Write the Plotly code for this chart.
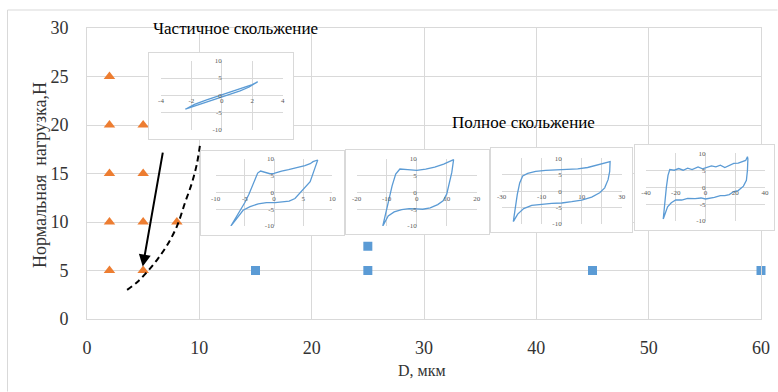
import plotly.graph_objects as go

# ---------------- data ----------------
partial_x = [2, 2, 2, 2, 2, 5, 5, 5, 5, 8]
partial_y = [5, 10, 15, 20, 25, 5, 10, 15, 20, 10]
full_x = [15, 25, 25, 45, 60]
full_y = [5, 5, 7.5, 5, 5]

boundary_x = [3.57, 4.46, 5.35, 6.24, 7.13, 8.02, 8.73, 9.36, 9.8, 10.1]
boundary_y = [3.0, 3.8, 4.85, 6.1, 7.6, 9.6, 12.0, 14.1, 16.1, 18.3]

arrow_tail = [6.77, 17.3]
arrow_tip = [4.96, 5.4]

loop1_x = [-2.4, -1.8, -1.0, -0.3, 0.4, 1.0, 1.6, 2.0, 2.35, 1.8, 1.2, 0.6, 0.0, -0.6, -1.2, -1.8, -2.4]
loop1_y = [-4.0, -2.6, -1.3, -0.3, 0.8, 1.6, 2.5, 3.1, 3.9, 2.4, 1.3, 0.4, -0.5, -1.3, -2.2, -3.1, -4.0]

loop2_x = [-7.4, -6.6, -5.8, -5.0, -4.3, -3.7, -3.2, -2.8, -2.3, -1.5, -0.7, 0.0, 1.3, 2.5, 3.6, 4.6, 5.3, 6.2, 6.7, 7.5,
           7.3, 7.0, 6.2, 4.7, 3.6, 2.6, 1.3, 0.2, -1.3, -2.7, -4.1, -5.3, -6.4, -7.4]
loop2_y = [-10.0, -7.8, -5.5, -3.0, -0.5, 2.0, 4.2, 5.8, 6.4, 6.0, 5.6, 5.7, 6.4, 6.8, 7.2, 7.6, 8.0, 8.6, 9.2, 9.7,
           8.5, 7.2, 3.2, 0.2, -1.8, -2.6, -2.8, -3.0, -3.0, -3.4, -4.2, -5.3, -7.8, -10.0]

loop3_x = [-11.3, -10.3, -9.3, -8.2, -7.0, -5.6, -3.0, 0.0, 3.0, 6.0, 9.0, 12.3,
           11.7, 10.8, 10.0, 8.8, 7.0, 4.5, 2.0, 0.0, -2.5, -5.0, -7.5, -9.5, -11.3]
loop3_y = [-10.0, -6.0, -2.0, 2.0, 5.5, 7.0, 6.8, 6.6, 7.0, 7.6, 8.5, 9.8,
           6.0, 2.0, -0.5, -2.5, -3.6, -4.6, -5.0, -4.9, -4.8, -5.1, -5.8, -7.0, -10.0]

loop4_x = [-24.2, -23.3, -22.2, -21.0, -19.5, -17.0, -13.0, -8.0, -3.0, 2.0, 8.0, 13.0, 17.0, 21.0, 24.2,
           24.0, 23.2, 21.5, 19.0, 15.0, 10.0, 5.0, 0.0, -5.0, -10.0, -15.0, -19.0, -22.0, -24.2]
loop4_y = [-9.3, -5.0, -1.0, 2.5, 4.6, 5.4, 6.0, 6.3, 6.4, 6.6, 6.8, 7.2, 7.9, 8.5, 9.0,
           6.0, 3.5, 1.0, -0.5, -1.8, -2.7, -3.2, -3.6, -3.7, -4.0, -4.3, -5.3, -7.0, -9.3]

loop5_x = [-28.4, -27.5, -26.3, -25.2, -24.0, -21.0, -18.0, -15.0, -12.0, -9.0, -5.0, -2.0, 1.0, 4.0, 7.0, 10.0,
           13.0, 16.0, 19.0, 22.0, 25.0, 27.0, 28.2, 28.5, 28.2, 27.5, 25.5, 22.0, 19.0, 16.0, 13.0, 10.0, 6.0,
           3.0, 0.0, -3.0, -7.0, -12.0, -16.0, -20.0, -23.0, -25.5, -27.0, -28.4]
loop5_y = [-9.4, -5.0, 0.0, 3.5, 5.2, 5.0, 5.5, 5.0, 5.6, 5.2, 6.0, 5.4, 5.8, 6.3, 6.0, 6.5,
           5.8, 6.3, 7.0, 7.1, 7.6, 7.9, 9.0, 8.3, 5.0, 2.0, 0.3, -1.0, -1.3, -2.2, -2.5, -2.5, -3.0,
           -3.3, -3.5, -3.2, -3.4, -3.3, -3.8, -3.8, -4.6, -5.8, -7.5, -9.4]

loops = [(loop1_x, loop1_y), (loop2_x, loop2_y), (loop3_x, loop3_y), (loop4_x, loop4_y), (loop5_x, loop5_y)]

inset_xranges = [[-4, 4], [-10, 10], [-20, 20], [-30, 30], [-40, 40]]
inset_xtickvals = [[-4, -2, 0, 2, 4], [-10, -5, 0, 5, 10], [-20, -10, 0, 10, 20],
                   [-30, -20, -10, 0, 10, 20, 30], [-40, -20, 0, 20, 40]]
inset_xticktext = [["-4", "-2", "0", "2", "4"], ["-10", "-5", "0", "5", "10"], ["-20", "-10", "0", "10", "20"],
                   ["-30", "", "-10", "", "10", "", "30"], ["-40", "-20", "0", "20", "40"]]
inset_ytickvals = [-10, -5, 0, 5, 10]
inset_yticktext = ["-10", "-5", "0", "5", "10"]

x_title = "D, мкм"
y_title = "Нормальная  нагрузка,Н"
label_partial = "Частичное скольжение"
label_full = "Полное скольжение"

# ---------------- layout geometry (pixels) ----------------
W, H = 778, 392
ML, MR, MT, MB = 87, 0, 28, 73
PW = W - ML - MR
PH = H - MT - MB
PLOT_RIGHT = 761

def px(x):
    return (x - ML) / PW

def py(y):
    return (H - MB - y) / PH

inset_boxes = [(149, 53, 293, 139), (201, 151, 344, 235), (346, 150, 489, 234),
               (491, 148, 632, 232), (635, 145, 774, 230)]
inset_plots = [(161, 60.7, 282.7, 130), (215.7, 159, 332.3, 226), (356.7, 159, 476.7, 226),
               (501.7, 158.3, 621.7, 224), (646, 153.3, 765, 221)]

SERIF = "Liberation Serif"
GRID = "#D9D9D9"
BLUE = "#5B9BD5"
ORANGE = "#ED7D31"

fig = go.Figure()

fig.add_trace(go.Scatter(x=partial_x, y=partial_y, mode="markers",
                         marker=dict(symbol="triangle-up", size=10, color=ORANGE),
                         showlegend=False, cliponaxis=False))
fig.add_trace(go.Scatter(x=full_x, y=full_y, mode="markers",
                         marker=dict(symbol="square", size=9, color=BLUE),
                         showlegend=False, cliponaxis=False))
fig.add_trace(go.Scatter(x=boundary_x, y=boundary_y, mode="lines",
                         line=dict(color="black", width=2, dash="6px,4px", shape="spline"),
                         showlegend=False))

layout = dict(
    width=W, height=H, autosize=False,
    margin=dict(l=ML, r=MR, t=MT, b=MB, pad=0, autoexpand=False),
    paper_bgcolor="white", plot_bgcolor="white",
    showlegend=False,
    font=dict(family=SERIF),
    xaxis=dict(domain=[0, px(PLOT_RIGHT)], range=[0, 60], dtick=10, tick0=0, automargin=False,
               showgrid=True, gridcolor=GRID, gridwidth=1,
               showline=True, mirror=True, linecolor=GRID, linewidth=1, zeroline=False,
               ticks="outside", ticklen=12, tickcolor="rgba(0,0,0,0)",
               tickfont=dict(family=SERIF, size=18, color="#333333"), fixedrange=True),
    yaxis=dict(domain=[0, 1], range=[0, 30], dtick=5, tick0=0, automargin=False,
               showgrid=True, gridcolor=GRID, gridwidth=1,
               showline=True, mirror=True, linecolor=GRID, linewidth=1, zeroline=False,
               ticks="outside", ticklen=14, tickcolor="rgba(0,0,0,0)",
               tickfont=dict(family=SERIF, size=18, color="#333333"), fixedrange=True),
)

inset_font = dict(family=SERIF, size=7, color="#595959")
for i in range(5):
    bi = 2 + 2 * i
    pi = bi + 1
    bl, bt, br, bb = inset_boxes[i]
    pl, pt, pr, pb = inset_plots[i]
    xr = inset_xranges[i]
    yr = [-10, 10]
    fig.add_trace(go.Scatter(x=[None], y=[None], xaxis=f"x{bi}", yaxis=f"y{bi}",
                             showlegend=False, hoverinfo="skip"))
    box_ax = dict(range=[0, 1], showline=True, mirror=True, linecolor=GRID, linewidth=1, automargin=False,
                  showgrid=False, zeroline=False, showticklabels=False, ticks="", fixedrange=True)
    layout[f"xaxis{bi}"] = dict(domain=[px(bl), px(br)], anchor=f"y{bi}", **box_ax)
    layout[f"yaxis{bi}"] = dict(domain=[py(bb), py(bt)], anchor=f"x{bi}", **box_ax)
    lx, ly = loops[i]
    fig.add_trace(go.Scatter(x=lx, y=ly, mode="lines", xaxis=f"x{pi}", yaxis=f"y{pi}",
                             line=dict(color=BLUE, width=1.3), showlegend=False))
    x0_pix = pl + (0 - xr[0]) / (xr[1] - xr[0]) * (pr - pl)
    y0_pix = pb - (0 - yr[0]) / (yr[1] - yr[0]) * (pb - pt)
    layout[f"xaxis{pi}"] = dict(domain=[px(pl), px(pr)], anchor="free", position=py(y0_pix),
                                range=xr, tickvals=inset_xtickvals[i], ticktext=inset_xticktext[i],
                                showgrid=True, gridcolor=GRID, gridwidth=0.8, zeroline=False, automargin=False,
                                showline=False, ticks="", tickfont=inset_font, fixedrange=True)
    layout[f"yaxis{pi}"] = dict(domain=[py(pb), py(pt)], anchor="free", position=px(x0_pix),
                                range=yr, tickvals=inset_ytickvals, ticktext=inset_yticktext,
                                showgrid=True, gridcolor=GRID, gridwidth=0.8, zeroline=False, automargin=False,
                                showline=False, ticks="", tickfont=inset_font, fixedrange=True)

layout["shapes"] = [
    dict(type="line", xref="paper", yref="paper", x0=px(7.5), x1=px(7.5), y0=py(391.5), y1=py(10),
         line=dict(color=GRID, width=1), layer="below"),
    dict(type="line", xref="paper", yref="paper", x0=px(7.5), x1=px(777.5), y0=py(10), y1=py(10),
         line=dict(color=GRID, width=1), layer="below"),
]

layout["annotations"] = [
    dict(x=arrow_tip[0], y=arrow_tip[1], ax=arrow_tail[0], ay=arrow_tail[1],
         xref="x", yref="y", axref="x", ayref="y", text="", showarrow=True,
         arrowhead=2, arrowsize=1.2, arrowwidth=2, arrowcolor="black", standoff=0),
    dict(x=px(235), y=py(28), xref="paper", yref="paper", text=label_partial, showarrow=False,
         xanchor="center", yanchor="middle", font=dict(family=SERIF, size=17, color="black")),
    dict(x=px(523), y=py(122.5), xref="paper", yref="paper", text=label_full, showarrow=False,
         xanchor="center", yanchor="middle", font=dict(family=SERIF, size=17, color="black")),
    dict(x=px(40), y=py(175), xref="paper", yref="paper", text=y_title, showarrow=False,
         textangle=-90, xanchor="center", yanchor="middle",
         font=dict(family=SERIF, size=18, color="#333333")),
    dict(x=px(422), y=py(370), xref="paper", yref="paper", text=x_title, showarrow=False,
         xanchor="center", yanchor="middle", font=dict(family=SERIF, size=16, color="#333333")),
]

fig.update_layout(**layout)
fig.write_html("out.html")
